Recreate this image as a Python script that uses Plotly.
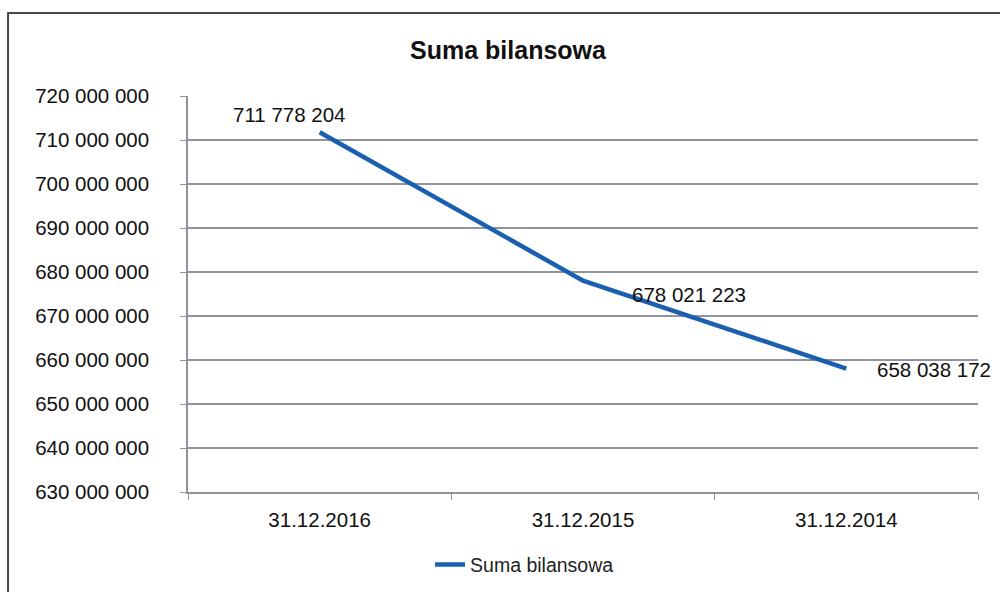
import plotly.graph_objects as go

categories = ["31.12.2016", "31.12.2015", "31.12.2014"]
values = [711778204, 678021223, 658038172]
series_name = "Suma bilansowa"
title_text = "Suma bilansowa"
y_ticks = [630000000, 640000000, 650000000, 660000000, 670000000,
           680000000, 690000000, 700000000, 710000000, 720000000]

FONT = "Liberation Sans, Arial, sans-serif"
BLUE = "#1b5fb0"
GRID = "#8e939c"

fig = go.Figure()
fig.add_trace(go.Scatter(
    x=categories, y=values, mode="lines", name=series_name,
    line=dict(color=BLUE, width=4.5), hoverinfo="skip",
))

# data labels (offsets in pixels relative to each point)
label_offsets = [(-89, 18), (47, -14), (29, -1)]
for c, v, (dx, dy) in zip(categories, values, label_offsets):
    fig.add_annotation(
        x=c, y=v, xref="x", yref="y",
        text=f"{v:,}".replace(",", " "), showarrow=False,
        xanchor="left", yanchor="middle", xshift=dx, yshift=dy,
        font=dict(family=FONT, size=20.5, color="#111"),
    )

# chart frame
fig.add_shape(type="rect", xref="paper", yref="paper",
              x0=-0.2278, x1=1.04, y0=-0.27, y1=1.2096,
              line=dict(color="#4a4a4a", width=2), fillcolor="rgba(0,0,0,0)",
              layer="below")

fig.update_layout(
    width=1000, height=592,
    margin=dict(l=188, r=22, t=96, b=100, autoexpand=False),
    paper_bgcolor="white", plot_bgcolor="white",
    separators=", ",
    title=dict(text=f"<b>{title_text}</b>", x=0.508, xanchor="center",
               y=1 - 50 / 592, yanchor="middle", yref="container",
               font=dict(family=FONT, size=25, color="#111")),
    showlegend=True,
    legend=dict(orientation="h", x=0.426, xanchor="center", y=-0.184,
                yanchor="middle", font=dict(family=FONT, size=19.5, color="#222"),
                bgcolor="rgba(0,0,0,0)"),
    font=dict(family=FONT, color="#111"),
)

fig.update_xaxes(
    type="category", range=[-0.5, 2.5], automargin=False,
    showgrid=False, showline=True, linecolor=GRID, linewidth=1.5,
    ticks="outside", tickson="boundaries", ticklen=6, tickcolor=GRID,
    ticklabelstandoff=9,
    tickfont=dict(family=FONT, size=20.5, color="#111"),
)
fig.update_yaxes(
    range=[630000000, 720000000], tickvals=y_ticks, tickformat=",d",
    automargin=False,
    showgrid=True, gridcolor=GRID, gridwidth=1.5,
    showline=True, linecolor=GRID, linewidth=1.5,
    ticks="outside", ticklen=6, tickcolor=GRID,
    ticklabelstandoff=27,
    tickfont=dict(family=FONT, size=20.5, color="#111"),
    zeroline=False,
)

fig.write_html("out.html", config={"displayModeBar": False},
               post_script="document.body.style.margin='0';")
